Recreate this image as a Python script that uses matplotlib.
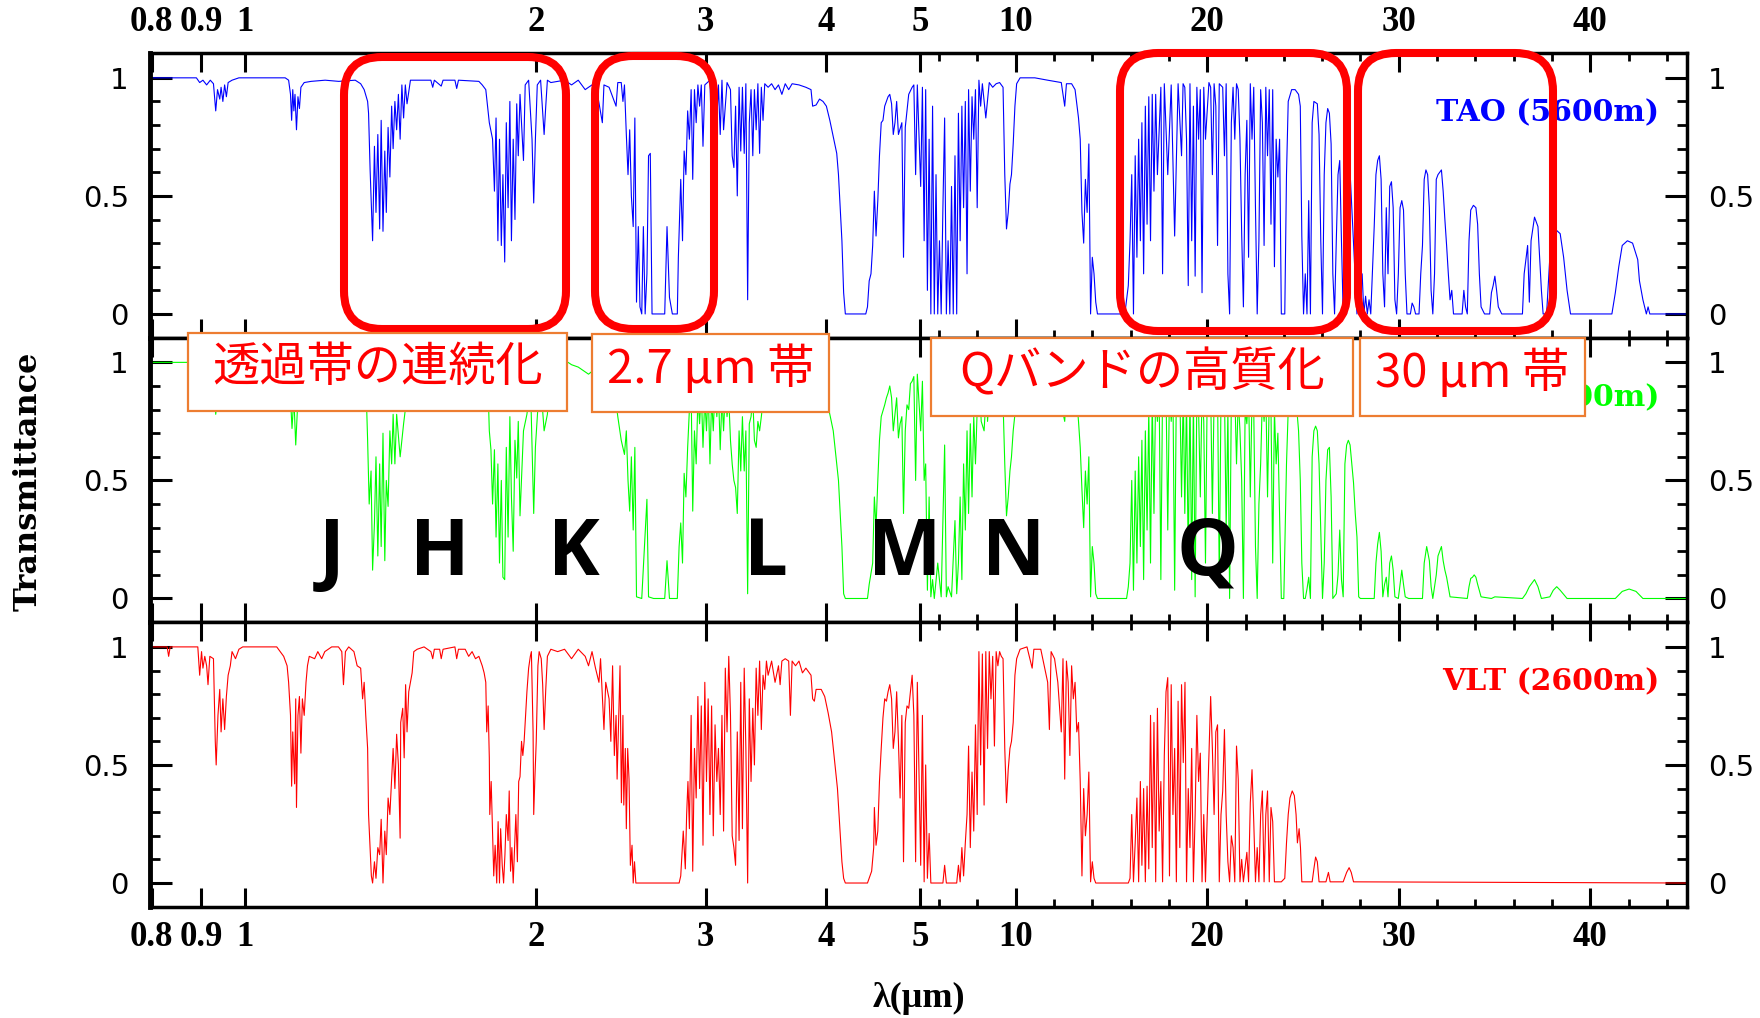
import numpy as np
import matplotlib
matplotlib.use("Agg")
from matplotlib import pyplot as plt
from matplotlib.patches import FancyBboxPatch, Rectangle

# transmittance: (wavelength in micron, transmittance)
tao_points = [
    (0.796, 1.0), (0.890, 1.0), (0.897, 0.98), (0.904, 0.99), (0.912, 0.97), (0.920, 0.99), (0.927, 0.975),
    (0.932, 0.86), (0.936, 0.95), (0.941, 0.91), (0.944, 0.96), (0.948, 0.90), (0.952, 0.97), (0.956, 0.92),
    (0.960, 0.98), (0.969, 0.99), (0.985, 1.0), (1.100, 1.0), (1.109, 0.99), (1.114, 0.93), (1.117, 0.82),
    (1.120, 0.95), (1.123, 0.86), (1.126, 0.93), (1.130, 0.78), (1.134, 0.92), (1.138, 0.87), (1.142, 0.96),
    (1.151, 0.98), (1.170, 0.985), (1.210, 0.99), (1.250, 0.985), (1.300, 0.99), (1.317, 0.975),
    (1.328, 0.95), (1.339, 0.90), (1.342, 0.85), (1.347, 0.61), (1.355, 0.31), (1.361, 0.71), (1.366, 0.43),
    (1.372, 0.76), (1.378, 0.36), (1.383, 0.82), (1.389, 0.35), (1.395, 0.69), (1.400, 0.43), (1.406, 0.79),
    (1.412, 0.58), (1.418, 0.88), (1.423, 0.70), (1.429, 0.90), (1.435, 0.78), (1.441, 0.93), (1.447, 0.74),
    (1.453, 0.97), (1.459, 0.83), (1.465, 0.97), (1.471, 0.89), (1.483, 0.99), (1.557, 0.99), (1.564, 0.96),
    (1.570, 0.99), (1.596, 0.965), (1.603, 0.99), (1.649, 0.99), (1.656, 0.955), (1.663, 0.99), (1.746, 0.985),
    (1.760, 0.97), (1.775, 0.95), (1.790, 0.81), (1.804, 0.74), (1.812, 0.52), (1.819, 0.83), (1.827, 0.31),
    (1.834, 0.74), (1.842, 0.29), (1.849, 0.59), (1.857, 0.22), (1.864, 0.81), (1.872, 0.45), (1.880, 0.90),
    (1.887, 0.31), (1.895, 0.74), (1.903, 0.40), (1.911, 0.89), (1.918, 0.67), (1.926, 0.93), (1.942, 0.65),
    (1.950, 0.97), (1.966, 0.99), (1.982, 0.74), (1.990, 0.47), (1.998, 0.74), (2.007, 0.97), (2.023, 0.99),
    (2.040, 0.76), (2.048, 0.88), (2.056, 0.99), (2.073, 0.98), (2.142, 0.99), (2.178, 0.97), (2.213, 0.99),
    (2.250, 0.95), (2.268, 0.96), (2.306, 0.98), (2.344, 0.81), (2.353, 0.97), (2.382, 0.96), (2.422, 0.88),
    (2.432, 0.98), (2.452, 0.98), (2.462, 0.90), (2.471, 0.97), (2.482, 0.76), (2.492, 0.59), (2.502, 0.78),
    (2.512, 0.50), (2.523, 0.37), (2.533, 0.83), (2.543, 0.05), (2.554, 0.37), (2.564, 0.03), (2.575, 0.0),
    (2.585, 0.37), (2.596, 0.0), (2.607, 0.17), (2.617, 0.67), (2.628, 0.68), (2.639, 0.0), (2.720, 0.0),
    (2.735, 0.37), (2.751, 0.07), (2.770, 0.0), (2.803, 0.0), (2.810, 0.24), (2.826, 0.57), (2.838, 0.31),
    (2.849, 0.69), (2.861, 0.59), (2.873, 0.86), (2.885, 0.74), (2.897, 0.95), (2.908, 0.57), (2.920, 0.95),
    (2.932, 0.81), (2.944, 0.97), (2.956, 0.88), (2.968, 0.97), (2.980, 0.71), (2.993, 0.97), (3.030, 0.99),
    (3.042, 0.72), (3.054, 0.98), (3.080, 0.82), (3.092, 0.97), (3.105, 0.76), (3.118, 0.99), (3.130, 0.78),
    (3.156, 0.98), (3.182, 0.95), (3.195, 0.67), (3.208, 0.62), (3.221, 0.88), (3.234, 0.50), (3.248, 0.96),
    (3.261, 0.69), (3.274, 0.96), (3.288, 0.68), (3.301, 0.975), (3.315, 0.06), (3.328, 0.81), (3.342, 0.95),
    (3.356, 0.67), (3.369, 0.95), (3.383, 0.78), (3.397, 0.975), (3.411, 0.68), (3.425, 0.96), (3.439, 0.82),
    (3.453, 0.975), (3.481, 0.96), (3.510, 0.975), (3.539, 0.95), (3.568, 0.97), (3.597, 0.93), (3.626, 0.975),
    (3.656, 0.95), (3.686, 0.975), (3.747, 0.97), (3.809, 0.96), (3.856, 0.95), (3.871, 0.88), (3.903, 0.885),
    (3.935, 0.91), (3.968, 0.90), (4.000, 0.88), (4.033, 0.82), (4.066, 0.75), (4.100, 0.68), (4.117, 0.59),
    (4.134, 0.45), (4.151, 0.31), (4.168, 0.09), (4.185, 0.0), (4.394, 0.0), (4.412, 0.03), (4.430, 0.14),
    (4.449, 0.17), (4.467, 0.29), (4.485, 0.52), (4.503, 0.33), (4.522, 0.48), (4.540, 0.67), (4.559, 0.81),
    (4.578, 0.82), (4.597, 0.88), (4.634, 0.92), (4.653, 0.93), (4.673, 0.89), (4.692, 0.76), (4.711, 0.81),
    (4.730, 0.90), (4.750, 0.76), (4.789, 0.81), (4.808, 0.24), (4.828, 0.79), (4.868, 0.93), (4.908, 0.96),
    (4.928, 0.97), (4.949, 0.59), (4.969, 0.97), (5.04, 0.54), (5.13, 0.96), (5.22, 0.31), (5.30, 0.95),
    (5.39, 0.10), (5.48, 0.74), (5.57, 0.0), (5.66, 0.88), (5.75, 0.0), (5.84, 0.59), (5.93, 0.0), (6.02, 0.31),
    (6.11, 0.0), (6.20, 0.45), (6.29, 0.83), (6.38, 0.0), (6.47, 0.31), (6.56, 0.0), (6.65, 0.54), (6.74, 0.0),
    (6.83, 0.67), (6.92, 0.0), (7.01, 0.85), (7.10, 0.31), (7.19, 0.88), (7.28, 0.45), (7.37, 0.90), (7.46, 0.17),
    (7.54, 0.95), (7.63, 0.52), (7.72, 0.92), (7.81, 0.74), (7.90, 0.95), (7.99, 0.45), (8.08, 0.99), (8.17, 0.88),
    (8.26, 0.975), (8.44, 0.83), (8.62, 0.98), (8.80, 0.96), (8.98, 0.975), (9.16, 0.98), (9.34, 0.96),
    (9.43, 0.59), (9.52, 0.36), (9.61, 0.43), (9.70, 0.55), (9.78, 0.59), (9.87, 0.72), (9.96, 0.88),
    (10.05, 0.975), (10.23, 1.0), (11.0, 1.0), (11.67, 0.99), (12.38, 0.98), (12.56, 0.88), (12.65, 0.975),
    (12.92, 0.975), (13.10, 0.95), (13.28, 0.83), (13.37, 0.74), (13.46, 0.43), (13.55, 0.30), (13.64, 0.57),
    (13.73, 0.43), (13.82, 0.72), (13.91, 0.0), (14.00, 0.24), (14.09, 0.17), (14.18, 0.05), (14.27, 0.0),
    (15.70, 0.0), (15.79, 0.06), (15.88, 0.12), (15.97, 0.31), (16.06, 0.59), (16.15, 0.0), (16.24, 0.67),
    (16.33, 0.24), (16.42, 0.74), (16.51, 0.31), (16.59, 0.81), (16.68, 0.17), (16.77, 0.88), (16.86, 0.38),
    (16.95, 0.92), (17.04, 0.31), (17.13, 0.93), (17.22, 0.52), (17.31, 0.93), (17.40, 0.59), (17.58, 0.96),
    (17.67, 0.17), (17.76, 0.975), (17.94, 0.59), (18.12, 0.97), (18.30, 0.33), (18.48, 0.975), (18.66, 0.67),
    (18.74, 0.975), (18.83, 0.96), (18.92, 0.74), (19.01, 0.12), (19.10, 0.975), (19.19, 0.31), (19.28, 0.88),
    (19.37, 0.16), (19.46, 0.96), (19.55, 0.74), (19.64, 0.95), (19.73, 0.09), (19.82, 0.96), (19.91, 0.74),
    (20.09, 0.98), (20.18, 0.96), (20.27, 0.59), (20.36, 0.975), (20.45, 0.88), (20.54, 0.29), (20.63, 0.975),
    (20.81, 0.96), (20.90, 0.67), (20.99, 0.975), (21.08, 0.17), (21.17, 0.0), (21.26, 0.81), (21.35, 0.96),
    (21.44, 0.74), (21.53, 0.975), (21.62, 0.95), (21.71, 0.74), (21.80, 0.34), (21.89, 0.03), (21.98, 0.59),
    (22.07, 0.82), (22.16, 0.24), (22.25, 0.975), (22.34, 0.74), (22.43, 0.96), (22.52, 0.45), (22.61, 0.0),
    (22.70, 0.31), (22.79, 0.95), (22.88, 0.81), (22.97, 0.29), (23.06, 0.96), (23.15, 0.67), (23.24, 0.95),
    (23.33, 0.38), (23.42, 0.95), (23.51, 0.20), (23.60, 0.74), (23.69, 0.58), (23.78, 0.74), (23.87, 0.0),
    (24.05, 0.0), (24.14, 0.59), (24.23, 0.90), (24.41, 0.95), (24.59, 0.95), (24.77, 0.93), (24.86, 0.88),
    (24.94, 0.33), (25.03, 0.0), (25.12, 0.17), (25.21, 0.0), (25.30, 0.48), (25.39, 0.0), (25.48, 0.81),
    (25.57, 0.90), (25.75, 0.89), (25.84, 0.76), (25.93, 0.31), (26.02, 0.0), (26.11, 0.59), (26.20, 0.81),
    (26.29, 0.87), (26.38, 0.85), (26.47, 0.72), (26.56, 0.17), (26.65, 0.0), (26.74, 0.31), (26.83, 0.59),
    (26.92, 0.65), (27.01, 0.31), (27.10, 0.0), (27.19, 0.72), (27.28, 0.0), (27.46, 0.60), (27.64, 0.30),
    (27.82, 0.0), (28.09, 0.17), (28.18, 0.0), (28.27, 0.075), (28.36, 0.0), (28.45, 0.06), (28.54, 0.0),
    (28.72, 0.37), (28.81, 0.59), (28.90, 0.65), (28.99, 0.67), (29.08, 0.57), (29.17, 0.17), (29.26, 0.03),
    (29.35, 0.45), (29.44, 0.17), (29.53, 0.54), (29.62, 0.56), (29.71, 0.45), (29.80, 0.06), (29.89, 0.0),
    (29.98, 0.17), (30.07, 0.45), (30.16, 0.48), (30.25, 0.44), (30.34, 0.17), (30.43, 0.0), (30.61, 0.0),
    (30.70, 0.046), (30.79, 0.03), (30.88, 0.0), (31.06, 0.0), (31.15, 0.17), (31.24, 0.29), (31.33, 0.57),
    (31.42, 0.61), (31.51, 0.59), (31.60, 0.45), (31.69, 0.10), (31.78, 0.0), (31.87, 0.17), (31.96, 0.57),
    (32.05, 0.59), (32.14, 0.60), (32.23, 0.61), (32.32, 0.52), (32.41, 0.40), (32.50, 0.29), (32.59, 0.17),
    (32.68, 0.06), (32.77, 0.10), (32.86, 0.0), (33.31, 0.0), (33.40, 0.10), (33.49, 0.03), (33.58, 0.0),
    (33.67, 0.31), (33.76, 0.44), (33.90, 0.46), (34.03, 0.45), (34.12, 0.38), (34.21, 0.17), (34.30, 0.03),
    (34.48, 0.0), (34.75, 0.0), (34.84, 0.09), (34.93, 0.12), (35.02, 0.16), (35.11, 0.10), (35.20, 0.03),
    (35.38, 0.0), (36.46, 0.0), (36.55, 0.17), (36.64, 0.23), (36.73, 0.29), (36.82, 0.05), (36.91, 0.31),
    (37.09, 0.41), (37.27, 0.37), (37.45, 0.10), (37.54, 0.0), (37.72, 0.0), (37.89, 0.24), (38.16, 0.36),
    (38.43, 0.34), (38.61, 0.24), (38.79, 0.10), (38.97, 0.0), (41.13, 0.0), (41.31, 0.09), (41.49, 0.20),
    (41.67, 0.29), (41.94, 0.31), (42.21, 0.30), (42.48, 0.23), (42.57, 0.14), (42.75, 0.06), (42.93, 0.0),
    (43.02, 0.03), (43.11, 0.0), (45.1, 0.0),
]

mk_points = [
    (0.796, 1.0), (0.870, 1.0), (0.900, 0.98), (0.925, 0.95), (0.932, 0.78), (0.940, 0.90), (0.950, 0.85),
    (0.960, 0.95), (0.980, 0.99), (1.100, 0.99), (1.114, 0.85), (1.118, 0.72), (1.123, 0.85), (1.128, 0.65),
    (1.134, 0.85), (1.150, 0.95), (1.200, 0.98), (1.320, 0.97), (1.335, 0.85), (1.339, 0.67), (1.344, 0.40),
    (1.350, 0.54), (1.355, 0.12), (1.361, 0.32), (1.366, 0.60), (1.372, 0.18), (1.378, 0.57), (1.383, 0.22),
    (1.389, 0.70), (1.395, 0.16), (1.400, 0.50), (1.406, 0.39), (1.412, 0.71), (1.418, 0.57), (1.423, 0.78),
    (1.429, 0.57), (1.435, 0.78), (1.447, 0.60), (1.459, 0.74), (1.465, 0.80), (1.480, 0.90), (1.500, 0.97),
    (1.550, 0.98), (1.700, 0.98), (1.760, 0.96), (1.785, 0.88), (1.790, 0.71), (1.797, 0.63), (1.804, 0.40),
    (1.812, 0.63), (1.819, 0.26), (1.827, 0.57), (1.834, 0.15), (1.842, 0.50), (1.849, 0.09), (1.857, 0.08),
    (1.864, 0.64), (1.872, 0.26), (1.880, 0.77), (1.887, 0.43), (1.895, 0.20), (1.903, 0.67), (1.911, 0.51),
    (1.918, 0.75), (1.926, 0.35), (1.942, 0.71), (1.958, 0.78), (1.975, 0.90), (1.990, 0.36), (1.998, 0.64),
    (2.007, 0.77), (2.020, 0.95), (2.040, 0.71), (2.056, 0.78), (2.070, 0.95), (2.120, 0.98), (2.160, 1.0),
    (2.178, 0.99), (2.213, 0.98), (2.250, 0.96), (2.268, 0.95), (2.300, 0.97), (2.340, 0.85), (2.360, 0.96),
    (2.400, 0.95), (2.432, 0.77), (2.452, 0.67), (2.471, 0.61), (2.482, 0.71), (2.492, 0.50), (2.502, 0.37),
    (2.512, 0.60), (2.523, 0.29), (2.533, 0.64), (2.543, 0.007), (2.575, 0.0), (2.607, 0.42), (2.617, 0.007),
    (2.649, 0.0), (2.720, 0.0), (2.735, 0.16), (2.751, 0.0), (2.803, 0.0), (2.815, 0.22), (2.826, 0.32),
    (2.838, 0.15), (2.849, 0.53), (2.861, 0.43), (2.873, 0.64), (2.885, 0.80), (2.897, 0.88), (2.908, 0.37),
    (2.920, 0.71), (2.932, 0.57), (2.944, 0.85), (2.956, 0.74), (2.968, 0.88), (2.980, 0.64), (2.993, 0.85),
    (3.005, 0.71), (3.017, 0.90), (3.030, 0.57), (3.042, 0.85), (3.054, 0.71), (3.067, 0.90), (3.080, 0.77),
    (3.092, 0.88), (3.105, 0.63), (3.118, 0.85), (3.130, 0.71), (3.143, 0.88), (3.156, 0.77), (3.169, 0.85),
    (3.182, 0.67), (3.195, 0.57), (3.208, 0.50), (3.221, 0.47), (3.234, 0.36), (3.248, 0.71), (3.261, 0.54),
    (3.274, 0.77), (3.288, 0.54), (3.301, 0.71), (3.315, 0.02), (3.328, 0.74), (3.342, 0.77), (3.356, 0.85),
    (3.369, 0.67), (3.383, 0.64), (3.397, 0.75), (3.411, 0.71), (3.425, 0.77), (3.453, 0.90), (3.500, 0.95),
    (3.600, 0.93), (3.750, 0.95), (3.850, 0.92), (3.950, 0.88), (4.000, 0.84), (4.033, 0.78), (4.066, 0.71),
    (4.100, 0.57), (4.117, 0.50), (4.134, 0.36), (4.151, 0.22), (4.168, 0.02), (4.185, 0.0), (4.412, 0.0),
    (4.430, 0.06), (4.467, 0.15), (4.485, 0.43), (4.503, 0.30), (4.522, 0.50), (4.540, 0.67), (4.559, 0.77),
    (4.597, 0.82), (4.616, 0.85), (4.634, 0.87), (4.653, 0.90), (4.673, 0.85), (4.692, 0.71), (4.711, 0.78),
    (4.730, 0.85), (4.750, 0.68), (4.769, 0.74), (4.789, 0.77), (4.808, 0.36), (4.828, 0.71), (4.848, 0.82),
    (4.868, 0.80), (4.888, 0.91), (4.908, 0.92), (4.928, 0.94), (4.949, 0.50), (4.969, 0.95), (5.04, 0.71),
    (5.13, 0.92), (5.22, 0.50), (5.30, 0.57), (5.39, 0.035), (5.48, 0.43), (5.57, 0.007), (5.66, 0.08),
    (5.75, 0.0), (5.93, 0.15), (6.11, 0.007), (6.29, 0.65), (6.38, 0.007), (6.47, 0.05), (6.65, 0.007),
    (6.83, 0.33), (6.92, 0.02), (7.01, 0.15), (7.10, 0.43), (7.19, 0.08), (7.28, 0.57), (7.37, 0.29),
    (7.46, 0.71), (7.54, 0.36), (7.63, 0.74), (7.72, 0.43), (7.81, 0.77), (7.90, 0.57), (7.99, 0.80),
    (8.10, 0.92), (8.20, 0.75), (8.35, 0.71), (8.50, 0.93), (8.53, 0.75), (8.70, 0.95), (9.00, 0.96),
    (9.30, 0.95), (9.43, 0.57), (9.52, 0.35), (9.61, 0.43), (9.70, 0.54), (9.78, 0.60), (9.87, 0.71),
    (9.96, 0.78), (10.10, 0.95), (10.30, 0.98), (12.00, 0.97), (12.56, 0.75), (12.70, 0.96), (13.10, 0.93),
    (13.28, 0.75), (13.37, 0.64), (13.46, 0.46), (13.55, 0.30), (13.64, 0.54), (13.73, 0.40), (13.82, 0.60),
    (13.91, 0.007), (14.00, 0.22), (14.09, 0.15), (14.18, 0.02), (14.27, 0.0), (15.79, 0.0), (15.88, 0.05),
    (15.97, 0.15), (16.06, 0.50), (16.15, 0.035), (16.24, 0.54), (16.33, 0.15), (16.42, 0.60), (16.51, 0.22),
    (16.59, 0.67), (16.68, 0.08), (16.77, 0.71), (16.86, 0.29), (16.95, 0.80), (17.04, 0.15), (17.13, 0.85),
    (17.22, 0.36), (17.31, 0.88), (17.40, 0.75), (17.49, 0.88), (17.58, 0.08), (17.67, 0.90), (17.76, 0.77),
    (17.85, 0.88), (17.94, 0.29), (18.03, 0.90), (18.12, 0.75), (18.21, 0.88), (18.30, 0.035), (18.39, 0.90),
    (18.48, 0.77), (18.57, 0.88), (18.66, 0.43), (18.75, 0.88), (18.83, 0.36), (18.92, 0.85), (19.01, 0.15),
    (19.10, 0.88), (19.19, 0.08), (19.28, 0.85), (19.37, 0.007), (19.46, 0.88), (19.55, 0.80), (19.64, 0.43),
    (19.73, 0.88), (19.82, 0.75), (19.91, 0.15), (20.00, 0.88), (20.09, 0.80), (20.18, 0.88), (20.27, 0.36),
    (20.36, 0.85), (20.45, 0.80), (20.54, 0.88), (20.63, 0.08), (20.72, 0.85), (20.81, 0.80), (20.90, 0.88),
    (20.99, 0.29), (21.08, 0.80), (21.17, 0.0), (21.26, 0.85), (21.35, 0.80), (21.44, 0.88), (21.53, 0.57),
    (21.62, 0.85), (21.71, 0.71), (21.80, 0.50), (21.89, 0.0), (21.98, 0.80), (22.07, 0.74), (22.16, 0.88),
    (22.25, 0.43), (22.34, 0.85), (22.43, 0.80), (22.52, 0.22), (22.61, 0.0), (22.70, 0.40), (22.79, 0.57),
    (22.88, 0.85), (22.97, 0.75), (23.06, 0.88), (23.15, 0.43), (23.24, 0.85), (23.33, 0.80), (23.42, 0.15),
    (23.51, 0.80), (23.60, 0.57), (23.69, 0.70), (23.78, 0.35), (23.87, 0.0), (24.00, 0.0), (24.14, 0.57),
    (24.23, 0.80), (24.40, 0.88), (24.55, 0.85), (24.68, 0.80), (24.77, 0.71), (24.86, 0.50), (24.94, 0.15),
    (25.03, 0.0), (25.12, 0.0), (25.21, 0.04), (25.30, 0.09), (25.39, 0.0), (25.48, 0.60), (25.57, 0.71),
    (25.66, 0.73), (25.75, 0.71), (25.84, 0.57), (25.93, 0.29), (26.02, 0.0), (26.11, 0.15), (26.20, 0.50),
    (26.29, 0.63), (26.38, 0.64), (26.47, 0.43), (26.56, 0.0), (26.74, 0.02), (26.83, 0.10), (26.92, 0.29),
    (27.01, 0.08), (27.10, 0.007), (27.19, 0.57), (27.28, 0.65), (27.37, 0.67), (27.46, 0.65), (27.55, 0.57),
    (27.64, 0.49), (27.73, 0.36), (27.82, 0.26), (27.91, 0.007), (28.00, 0.0), (28.72, 0.0), (28.81, 0.15),
    (28.90, 0.23), (28.99, 0.28), (29.08, 0.20), (29.17, 0.007), (29.26, 0.06), (29.35, 0.09), (29.44, 0.007),
    (29.53, 0.15), (29.62, 0.18), (29.71, 0.12), (29.80, 0.007), (29.98, 0.0), (30.07, 0.06), (30.16, 0.12),
    (30.25, 0.06), (30.34, 0.007), (30.52, 0.0), (31.24, 0.0), (31.33, 0.15), (31.46, 0.22), (31.60, 0.16),
    (31.69, 0.05), (31.78, 0.0), (31.96, 0.10), (32.05, 0.18), (32.14, 0.20), (32.23, 0.22), (32.32, 0.16),
    (32.41, 0.12), (32.50, 0.09), (32.68, 0.007), (33.58, 0.0), (33.67, 0.05), (33.76, 0.085), (33.85, 0.09),
    (33.94, 0.10), (34.03, 0.09), (34.12, 0.06), (34.30, 0.007), (34.84, 0.0), (35.02, 0.007), (36.46, 0.0),
    (36.64, 0.02), (36.82, 0.05), (37.09, 0.08), (37.27, 0.05), (37.45, 0.0), (37.89, 0.007), (38.07, 0.035),
    (38.25, 0.05), (38.43, 0.035), (38.79, 0.0), (41.31, 0.0), (41.67, 0.03), (42.03, 0.04), (42.39, 0.03),
    (42.75, 0.0), (45.1, 0.0),
]

vlt_points = [
    (0.796, 1.0), (0.830, 1.0), (0.833, 0.96), (0.836, 1.0), (0.893, 1.0), (0.897, 0.88), (0.901, 0.98),
    (0.904, 0.91), (0.908, 0.96), (0.912, 0.92), (0.915, 0.84), (0.919, 0.96), (0.927, 0.95), (0.931, 0.60),
    (0.933, 0.50), (0.937, 0.71), (0.941, 0.82), (0.944, 0.64), (0.948, 0.78), (0.952, 0.65), (0.956, 0.79),
    (0.960, 0.88), (0.965, 0.92), (0.969, 0.98), (0.977, 0.95), (0.985, 0.99), (0.994, 1.0), (1.078, 1.0),
    (1.087, 0.98), (1.096, 0.96), (1.105, 0.92), (1.109, 0.85), (1.114, 0.71), (1.117, 0.41), (1.120, 0.64),
    (1.125, 0.42), (1.128, 0.78), (1.130, 0.32), (1.134, 0.71), (1.138, 0.79), (1.142, 0.55), (1.146, 0.78),
    (1.151, 0.71), (1.156, 0.85), (1.160, 0.92), (1.165, 0.96), (1.180, 0.95), (1.189, 0.98), (1.200, 0.95),
    (1.209, 0.98), (1.229, 1.0), (1.249, 1.0), (1.259, 0.98), (1.264, 0.84), (1.270, 0.98), (1.280, 1.0),
    (1.296, 0.98), (1.306, 0.92), (1.317, 0.91), (1.323, 0.78), (1.328, 0.85), (1.333, 0.71), (1.339, 0.57),
    (1.342, 0.29), (1.347, 0.15), (1.351, 0.03), (1.355, 0.0), (1.361, 0.09), (1.366, 0.02), (1.372, 0.15),
    (1.378, 0.12), (1.383, 0.27), (1.389, 0.0), (1.395, 0.22), (1.400, 0.12), (1.406, 0.36), (1.412, 0.29),
    (1.418, 0.44), (1.423, 0.57), (1.429, 0.40), (1.435, 0.63), (1.441, 0.50), (1.447, 0.19), (1.449, 0.68),
    (1.456, 0.74), (1.461, 0.53), (1.466, 0.84), (1.471, 0.64), (1.477, 0.81), (1.483, 0.85), (1.489, 0.89),
    (1.495, 0.98), (1.507, 0.99), (1.532, 1.0), (1.557, 0.98), (1.564, 0.95), (1.570, 0.99), (1.590, 0.99),
    (1.596, 0.95), (1.603, 0.99), (1.649, 1.0), (1.656, 0.95), (1.663, 0.99), (1.690, 0.99), (1.704, 0.96),
    (1.718, 0.98), (1.732, 0.95), (1.746, 0.96), (1.760, 0.92), (1.768, 0.89), (1.775, 0.85), (1.779, 0.64),
    (1.785, 0.75), (1.790, 0.53), (1.792, 0.29), (1.798, 0.43), (1.804, 0.22), (1.809, 0.03), (1.815, 0.16),
    (1.822, 0.0), (1.828, 0.26), (1.834, 0.0), (1.839, 0.23), (1.846, 0.075), (1.852, 0.0), (1.858, 0.12),
    (1.864, 0.29), (1.872, 0.18), (1.877, 0.39), (1.883, 0.05), (1.889, 0.15), (1.895, 0.0), (1.901, 0.15),
    (1.907, 0.29), (1.914, 0.09), (1.920, 0.43), (1.926, 0.45), (1.933, 0.60), (1.939, 0.54), (1.945, 0.60),
    (1.952, 0.71), (1.958, 0.81), (1.966, 0.91), (1.974, 0.96), (1.979, 0.98), (1.987, 0.64), (1.990, 0.29),
    (1.995, 0.43), (2.002, 0.60), (2.010, 0.92), (2.016, 0.98), (2.026, 0.95), (2.033, 0.84), (2.040, 0.65),
    (2.048, 0.82), (2.056, 0.96), (2.073, 0.99), (2.107, 0.98), (2.142, 0.99), (2.178, 0.95), (2.213, 0.99),
    (2.250, 0.96), (2.268, 0.92), (2.287, 0.98), (2.306, 0.91), (2.325, 0.85), (2.334, 0.95), (2.353, 0.65),
    (2.363, 0.85), (2.382, 0.78), (2.392, 0.60), (2.402, 0.92), (2.412, 0.54), (2.422, 0.71), (2.428, 0.44),
    (2.435, 0.64), (2.445, 0.92), (2.453, 0.34), (2.462, 0.71), (2.467, 0.33), (2.476, 0.57), (2.482, 0.23),
    (2.490, 0.57), (2.498, 0.44), (2.506, 0.075), (2.516, 0.16), (2.523, 0.0), (2.531, 0.09), (2.539, 0.0),
    (2.815, 0.0), (2.826, 0.03), (2.843, 0.22), (2.857, 0.06), (2.866, 0.29), (2.875, 0.43), (2.885, 0.23),
    (2.897, 0.71), (2.908, 0.05), (2.920, 0.57), (2.932, 0.36), (2.944, 0.79), (2.956, 0.40), (2.968, 0.75),
    (2.980, 0.16), (2.993, 0.85), (3.005, 0.43), (3.017, 0.78), (3.030, 0.29), (3.042, 0.75), (3.054, 0.20),
    (3.067, 0.67), (3.080, 0.43), (3.092, 0.57), (3.105, 0.29), (3.118, 0.71), (3.130, 0.22), (3.143, 0.91),
    (3.156, 0.64), (3.169, 0.96), (3.182, 0.71), (3.195, 0.20), (3.208, 0.15), (3.221, 0.075), (3.234, 0.64),
    (3.248, 0.18), (3.261, 0.85), (3.274, 0.23), (3.288, 0.91), (3.301, 0.57), (3.315, 0.0), (3.328, 0.78),
    (3.342, 0.43), (3.356, 0.74), (3.369, 0.50), (3.383, 0.91), (3.397, 0.71), (3.411, 0.94), (3.425, 0.65),
    (3.439, 0.88), (3.453, 0.82), (3.467, 0.94), (3.481, 0.88), (3.510, 0.94), (3.539, 0.85), (3.568, 0.92),
    (3.582, 0.84), (3.597, 0.94), (3.626, 0.95), (3.656, 0.94), (3.671, 0.71), (3.686, 0.94), (3.716, 0.92),
    (3.747, 0.94), (3.778, 0.89), (3.809, 0.91), (3.840, 0.89), (3.856, 0.88), (3.871, 0.78), (3.887, 0.77),
    (3.903, 0.82), (3.951, 0.82), (3.984, 0.79), (4.017, 0.72), (4.050, 0.64), (4.083, 0.50), (4.107, 0.40),
    (4.127, 0.26), (4.151, 0.09), (4.168, 0.02), (4.185, 0.0), (4.412, 0.0), (4.430, 0.02), (4.456, 0.05),
    (4.478, 0.15), (4.485, 0.32), (4.503, 0.16), (4.522, 0.22), (4.540, 0.43), (4.559, 0.57), (4.578, 0.70),
    (4.597, 0.78), (4.616, 0.77), (4.634, 0.81), (4.653, 0.84), (4.673, 0.78), (4.692, 0.57), (4.711, 0.64),
    (4.730, 0.81), (4.750, 0.60), (4.769, 0.36), (4.789, 0.71), (4.808, 0.09), (4.828, 0.68), (4.848, 0.75),
    (4.868, 0.74), (4.888, 0.81), (4.908, 0.88), (4.928, 0.71), (4.949, 0.09), (4.969, 0.85), (5.04, 0.075),
    (5.13, 0.71), (5.22, 0.005), (5.30, 0.50), (5.39, 0.02), (5.48, 0.21), (5.57, 0.0), (6.20, 0.0),
    (6.29, 0.075), (6.38, 0.0), (6.92, 0.0), (7.01, 0.075), (7.10, 0.005), (7.19, 0.15), (7.28, 0.03),
    (7.37, 0.17), (7.46, 0.29), (7.54, 0.58), (7.63, 0.15), (7.72, 0.47), (7.81, 0.22), (7.90, 0.67),
    (7.99, 0.29), (8.08, 0.98), (8.17, 0.50), (8.26, 0.97), (8.35, 0.33), (8.44, 0.98), (8.53, 0.57),
    (8.62, 0.98), (8.71, 0.78), (8.80, 0.96), (8.89, 0.58), (8.98, 0.98), (9.07, 0.92), (9.16, 0.98),
    (9.25, 0.96), (9.34, 0.95), (9.43, 0.57), (9.52, 0.34), (9.61, 0.48), (9.70, 0.57), (9.78, 0.60),
    (9.87, 0.68), (9.96, 0.88), (10.05, 0.95), (10.23, 0.99), (10.59, 1.0), (10.86, 0.91), (10.95, 0.99),
    (11.31, 0.99), (11.67, 0.85), (11.76, 0.65), (11.85, 0.98), (12.03, 0.95), (12.20, 0.85), (12.38, 0.64),
    (12.47, 0.95), (12.56, 0.44), (12.65, 0.94), (12.74, 0.85), (12.83, 0.54), (12.92, 0.92), (13.01, 0.78),
    (13.10, 0.85), (13.19, 0.64), (13.28, 0.68), (13.37, 0.43), (13.46, 0.03), (13.55, 0.40), (13.64, 0.20),
    (13.73, 0.29), (13.82, 0.47), (13.91, 0.005), (14.00, 0.09), (14.09, 0.02), (14.18, 0.0), (15.88, 0.0),
    (15.97, 0.02), (16.06, 0.29), (16.15, 0.005), (16.24, 0.17), (16.33, 0.36), (16.42, 0.005), (16.51, 0.43),
    (16.59, 0.075), (16.68, 0.40), (16.77, 0.005), (16.86, 0.41), (16.95, 0.06), (17.04, 0.71), (17.13, 0.15),
    (17.22, 0.68), (17.31, 0.005), (17.40, 0.74), (17.49, 0.22), (17.58, 0.43), (17.67, 0.005), (17.76, 0.54),
    (17.85, 0.81), (17.94, 0.87), (18.03, 0.03), (18.12, 0.84), (18.21, 0.29), (18.30, 0.57), (18.39, 0.005),
    (18.48, 0.77), (18.57, 0.15), (18.66, 0.84), (18.75, 0.51), (18.84, 0.85), (18.92, 0.005), (19.01, 0.40),
    (19.10, 0.15), (19.19, 0.57), (19.28, 0.005), (19.37, 0.29), (19.46, 0.71), (19.55, 0.43), (19.64, 0.55),
    (19.73, 0.005), (19.82, 0.29), (19.91, 0.005), (20.05, 0.43), (20.18, 0.79), (20.27, 0.57), (20.36, 0.29),
    (20.45, 0.64), (20.54, 0.67), (20.63, 0.005), (20.72, 0.29), (20.81, 0.39), (20.90, 0.65), (20.99, 0.29),
    (21.08, 0.09), (21.17, 0.005), (21.26, 0.20), (21.35, 0.15), (21.44, 0.005), (21.53, 0.58), (21.62, 0.44),
    (21.71, 0.005), (21.80, 0.10), (21.89, 0.005), (22.07, 0.13), (22.16, 0.005), (22.25, 0.34), (22.34, 0.48),
    (22.43, 0.26), (22.52, 0.005), (22.61, 0.15), (22.70, 0.005), (22.79, 0.29), (22.88, 0.39), (22.97, 0.005),
    (23.06, 0.29), (23.15, 0.39), (23.24, 0.005), (23.33, 0.32), (23.42, 0.26), (23.51, 0.005), (23.87, 0.005),
    (24.05, 0.02), (24.14, 0.17), (24.23, 0.29), (24.32, 0.36), (24.44, 0.39), (24.55, 0.37), (24.64, 0.29),
    (24.71, 0.17), (24.80, 0.23), (24.87, 0.15), (24.94, 0.005), (25.48, 0.005), (25.57, 0.06), (25.66, 0.11),
    (25.75, 0.09), (25.84, 0.005), (26.20, 0.005), (26.33, 0.045), (26.42, 0.005), (27.10, 0.005),
    (27.28, 0.045), (27.41, 0.065), (27.52, 0.045), (27.64, 0.005), (45.1, 0.0),
]

site_names = ["TAO (5600m)", "MK (4200m)", "VLT (2600m)"]
site_colors = ["#0000ff", "#00ff00", "#ff0000"]

major_ticks = [0.8, 0.9, 1, 2, 3, 4, 5, 10, 20, 30, 40]
major_labels = ["0.8", "0.9", "1", "2", "3", "4", "5", "10", "20", "30", "40"]
minor_ticks = [6, 8, 12, 14, 16, 18, 22, 24, 26, 28, 32, 34, 36, 38, 42, 44]
y_major = [0, 0.5, 1]
y_labels = ["0", "0.5", "1"]
y_minor = [0.1, 0.2, 0.3, 0.4, 0.6, 0.7, 0.8, 0.9]

band_letters = ["J", "H", "K", "L", "M", "N", "Q"]
band_centres = [1.23, 1.59, 2.19, 3.46, 4.82, 9.9, 20.0]

notes = ["透過帯の連続化", "2.7 µm 帯", "Qバンドの高質化", "30 µm 帯"]


# axis: log up to 5 micron, linear beyond
def fwd(x):
    x = np.asarray(x, dtype=float)
    xs = np.maximum(x, 1e-3)
    return np.where(x < 5, 5 + 50.4 * np.log10(xs / 5), x)


def inv(y):
    y = np.asarray(y, dtype=float)
    return np.where(y < 5, 5 * 10 ** ((np.minimum(y, 5) - 5) / 50.4), y)


fig = plt.figure(figsize=(17.6, 10.18), dpi=100)
bottoms = [0.6684, 0.3889, 0.1094]
axes = []
for i, pts in enumerate([tao_points, mk_points, vlt_points]):
    ax = fig.add_axes([0.085, bottoms[i], 0.8735, 0.2795])
    ax.set_xscale("function", functions=(fwd, inv))
    wl, tr = np.array(pts).T
    ax.plot(wl, tr, color=site_colors[i], lw=0.8)
    ax.set_xlim(0.796, 45.05)
    ax.set_ylim(-0.1, 1.105)

    ax.set_xticks(major_ticks, labels=major_labels, fontfamily="Liberation Serif",
                  fontweight="bold", fontsize=25)
    ax.set_xticks(minor_ticks, minor=True)
    ax.set_yticks(y_major, labels=y_labels, fontfamily="DejaVu Sans", fontsize=21)
    ax.set_yticks(y_minor, minor=True)
    ax.tick_params(which="both", direction="in", top=True, right=True,
                   labelleft=True, labelright=True,
                   labeltop=(i == 0), labelbottom=(i == 2))
    ax.tick_params(axis="x", which="major", length=13.7, width=2.2, pad=10)
    ax.tick_params(axis="x", which="minor", length=5.8, width=2.0)
    ax.tick_params(axis="y", which="major", length=15.8, width=2.2, pad=15)
    ax.tick_params(axis="y", which="minor", length=7.2, width=2.0)
    for sp in ax.spines.values():
        sp.set_linewidth(2.5)
    ax.spines["left"].set_linewidth(3.5)

    # the middle site label sits partly under the "30 µm 帯" note, as in the reference
    ax.text(0.982, 0.76, site_names[i], transform=ax.transAxes, ha="right", va="baseline",
            color=site_colors[i], fontfamily="DejaVu Serif", fontweight="bold", fontsize=21.5)
    axes.append(ax)

for letter, c in zip(band_letters, band_centres):
    axes[1].text(c, 0.10, letter, ha="center", va="baseline", fontfamily="Open Sans",
                 fontweight="bold", fontsize=56, color="black")

fig.text(0.0159, 0.5275, "Transmittance", rotation=90, ha="center", va="center",
         fontfamily="DejaVu Serif", fontweight="bold", fontsize=23)
fig.text(0.522, 0.019, "λ(µm)", ha="center", va="center",
         fontfamily="Liberation Serif", fontweight="bold", fontsize=26)

# overlay in pixel units for the highlight frames and note boxes
ov = fig.add_axes([0, 0, 1, 1], zorder=10)
ov.set_xlim(0, 1760)
ov.set_ylim(1018, 0)
ov.axis("off")

red_frames = [(344, 566, 57, 329), (595, 714, 56, 329), (1120, 1347, 53, 331), (1358, 1553, 53, 331)]
for x0, x1, y0, y1 in red_frames:
    ov.add_patch(FancyBboxPatch((x0, y0), x1 - x0, y1 - y0,
                                boxstyle="round,pad=0,rounding_size=38",
                                fill=False, ec="#ff0000", lw=5.8, zorder=1))

note_boxes = [(188, 567, 333, 411), (592, 829, 334, 412), (931, 1353, 338, 416), (1360, 1585, 338, 416)]
for (x0, x1, y0, y1), label in zip(note_boxes, notes):
    ov.add_patch(Rectangle((x0, y0), x1 - x0, y1 - y0, fc="white", ec="#ed7d31", lw=1.6, zorder=2))
    ov.text((x0 + x1) / 2, (y0 + y1) / 2 - 4, label, ha="center", va="center", color="#ff0000",
            fontsize=34, fontfamily=["Noto Sans CJK JP", "DejaVu Sans"], zorder=3)

fig.savefig("out.png", dpi=100)
